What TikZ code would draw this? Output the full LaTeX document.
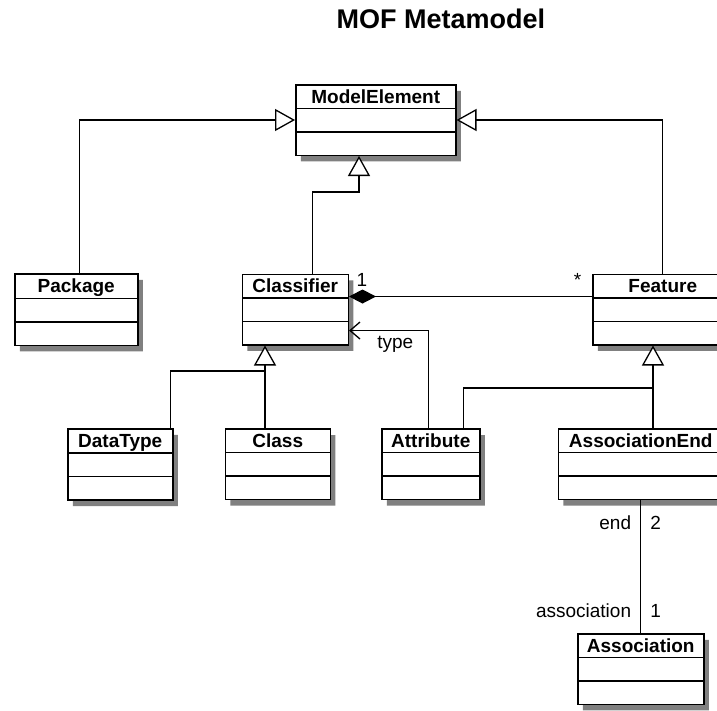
\documentclass[tikz,border=0pt]{standalone}
\usepackage{fontspec}
\setmainfont{Liberation Sans}
\usetikzlibrary{arrows.meta,positioning,shapes.multipart,shadows}

\begin{document}
\begin{tikzpicture}[
    x=1pt, y=-1pt,
    umlclass/.style={
        rectangle split,
        rectangle split parts=3,
        rectangle split empty part height=11pt,
        rectangle split empty part depth=4pt,
        draw,
        line width=1.5pt,
        fill=white,
        anchor=north west,
        inner ysep=1.5pt,
        font=\fontsize{19}{20}\selectfont\bfseries,
        execute at begin node=\rule[-3pt]{0pt}{19pt},
        drop shadow={shadow xshift=5pt, shadow yshift=-6pt, fill=black!50, opacity=1}
    },
    gen/.style={
        -{Triangle[open, fill=white, length=20pt, width=22pt]},
        line width=1.3pt
    },
    comp/.style={
        {Diamond[length=27pt, width=14pt]}-,
        line width=1.3pt
    },
    nav/.style={
        -{Straight Barb[length=10pt, width=17pt]},
        line width=1.3pt
    },
    role/.style={
        font=\fontsize{19}{20}\selectfont,
        inner sep=2pt
    }
]
\clip (0,0) rectangle (717,710);

% Title
\node[font=\fontsize{27}{30}\selectfont\bfseries, anchor=base] (title) at (441,28) {MOF Metamodel};

% Top
\node[umlclass, minimum width=160pt] (me) at (295,84) {ModelElement\nodepart{second}\nodepart{third}};

% First row
\node[umlclass, minimum width=123pt] (package) at (14,273) {Package\nodepart{second}\nodepart{third}};
\node[umlclass, minimum width=106pt, right=103pt of package] (classifier) {Classifier\nodepart{second}\nodepart{third}};
\node[umlclass, minimum width=140pt, right=243pt of classifier] (feature) {Feature\nodepart{second}\nodepart{third}};

% Second row
\node[umlclass, minimum width=105pt] (datatype) at (67,428) {DataType\nodepart{second}\nodepart{third}};
\node[umlclass, minimum width=105pt, right=51pt of datatype] (class) {Class\nodepart{second}\nodepart{third}};
\node[umlclass, minimum width=98pt, right=50pt of class] (attr) {Attribute\nodepart{second}\nodepart{third}};
\node[umlclass, minimum width=165pt, right=77pt of attr] (assocend) {AssociationEnd\nodepart{second}\nodepart{third}};

% Bottom
\node[umlclass, minimum width=126pt] (association) at (577,633) {Association\nodepart{second}\nodepart{third}};

% Junctions
\coordinate (mejoin) at (359,192);
\coordinate (clsjoin) at (265,371);
\coordinate (ftjoin) at (653,388);

% Generalizations
\draw[gen] ([xshift=3pt]package.north) |- (me.west);
\draw[gen] (feature.north) |- (me.east);
\draw[gen] ([xshift=17pt]classifier.north) |- (mejoin) -- (me.south -| mejoin);
\draw[gen] (class.north -| clsjoin) -- (classifier.south -| clsjoin);
\draw[line width=1.3pt] ([xshift=50pt]datatype.north) |- (clsjoin);
\draw[gen] (assocend.north -| ftjoin) -- (feature.south -| ftjoin);
\draw[line width=1.3pt] ([xshift=33pt]attr.north) |- (ftjoin);

% Associations
\draw[comp] ([yshift=13pt]classifier.east) -- ([yshift=13pt]feature.west)
    node[role, pos=0, anchor=south west, xshift=5pt, yshift=7pt] (clsmult) {1}
    node[role, pos=1, anchor=south east, xshift=-8pt, yshift=7pt] (ftmult) {*};
\draw[nav] ([xshift=-2pt]attr.north) |- ([yshift=-21pt]classifier.east)
    node[role, pos=0.71, below=3pt] (typerole) {type};
\draw[line width=1.3pt] (assocend.south) -- (association.north -| assocend.south)
    node[role, pos=0.17, left=7pt] (endrole) {end}
    node[role, pos=0.17, right=7pt] (endmult) {2}
    node[role, pos=0.83, left=7pt] (assocrole) {association}
    node[role, pos=0.83, right=7pt] (assocmult) {1};

\end{tikzpicture}
\end{document}
